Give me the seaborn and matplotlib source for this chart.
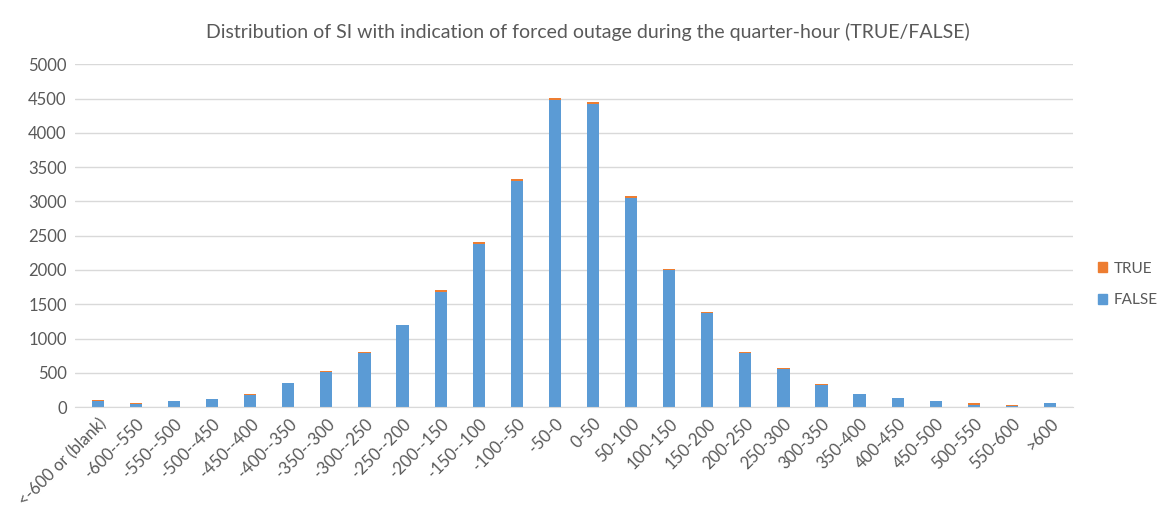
import matplotlib
matplotlib.use("Agg")
import matplotlib.pyplot as plt
from matplotlib.patches import Patch
import seaborn as sns
import pandas as pd

categories = ["<-600 or (blank)", "-600--550", "-550--500", "-500--450", "-450--400",
              "-400--350", "-350--300", "-300--250", "-250--200", "-200--150",
              "-150--100", "-100--50", "-50-0", "0-50", "50-100", "100-150",
              "150-200", "200-250", "250-300", "300-350", "350-400", "400-450",
              "450-500", "500-550", "550-600", ">600"]
false_vals = [85, 40, 85, 118, 180, 345, 518, 785, 1192, 1680, 2385, 3295, 4485,
              4418, 3055, 2000, 1370, 785, 555, 320, 193, 130, 90, 36, 20, 58]
true_vals = [15, 15, 8, 8, 15, 10, 8, 20, 10, 30, 25, 25, 27,
             30, 25, 20, 20, 15, 15, 20, 3, 2, 2, 18, 10, 2]

df = pd.DataFrame({"cat": categories, "FALSE": false_vals, "TRUE": true_vals})
df["total"] = df["FALSE"] + df["TRUE"]

sns.set_style("white")
plt.rcParams["font.family"] = ["Lato", "DejaVu Sans"]

c_false = "#5B9BD5"
c_true = "#ED7D31"
grey = "#595959"

fig = plt.figure(figsize=(11.63, 5.22), dpi=100)
ax = fig.add_axes([0.0645, 0.22, 0.858, 0.657])

sns.barplot(data=df, x="cat", y="total", color=c_true, saturation=1, width=0.32,
            ax=ax, order=categories, linewidth=0, edgecolor="none")
sns.barplot(data=df, x="cat", y="FALSE", color=c_false, saturation=1, width=0.32,
            ax=ax, order=categories, linewidth=0, edgecolor="none")

ax.set_ylim(0, 5000)
ax.set_yticks(range(0, 5001, 500))
ax.set_xlim(-0.6, len(categories) - 0.4)
ax.yaxis.grid(True, color="#D9D9D9", linewidth=1)
ax.set_axisbelow(True)
for s in ["top", "right", "left"]:
    ax.spines[s].set_visible(False)
ax.spines["bottom"].set_color("#D9D9D9")
ax.set_xlabel("")
ax.set_ylabel("")
ax.tick_params(axis="both", length=0, colors=grey, labelsize=12)
ax.tick_params(axis="y", pad=6)
ax.tick_params(axis="x", pad=6)
plt.setp(ax.get_xticklabels(), rotation=45, ha="right", rotation_mode="anchor")

fig.text(0.5055, 0.938,
         "Distribution of SI with indication of forced outage during the quarter-hour (TRUE/FALSE)",
         fontsize=14, color=grey, ha="center", va="center")

handles = [Patch(color=c_true, label="TRUE"), Patch(color=c_false, label="FALSE")]
fig.legend(handles=handles, loc="center left", bbox_to_anchor=(0.932, 0.455),
           frameon=False, fontsize=11, labelcolor=grey, handlelength=0.6,
           handleheight=0.6, handletextpad=0.45, labelspacing=1.15)

fig.savefig("out.png", dpi=100)
